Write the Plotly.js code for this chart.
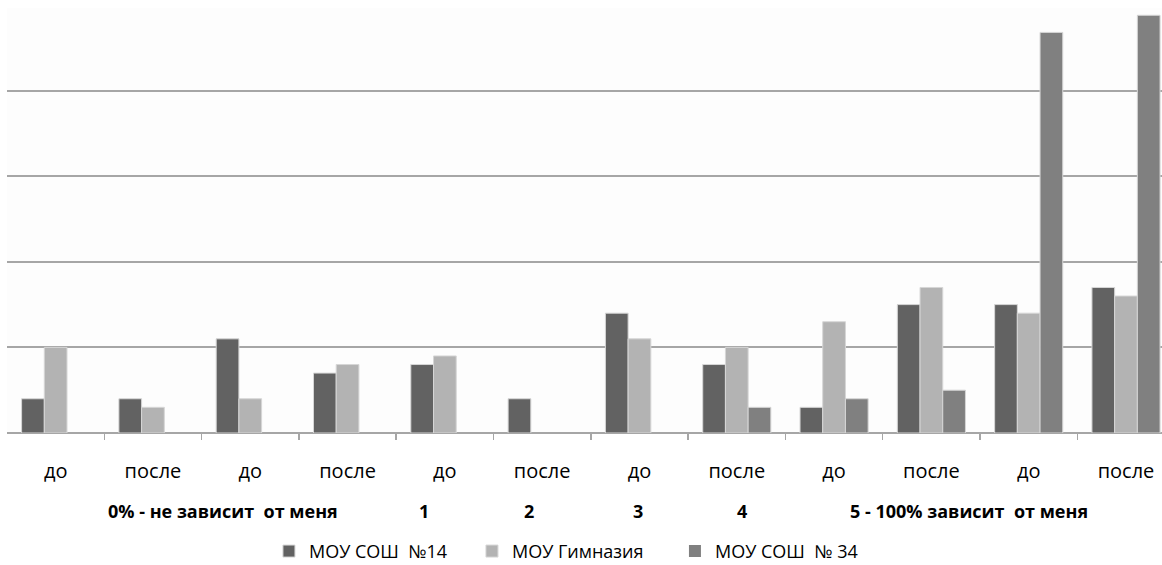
<!DOCTYPE html>
<html>
<head>
<meta charset="utf-8">
<script src="https://cdn.plot.ly/plotly-3.0.1.min.js"></script>
<style>html,body{margin:0;padding:0;background:#fff;}#chart{width:1162px;height:565px;}</style>
</head>
<body>
<div id="chart"></div>
<script>
// Categories (inner level labels)
var categories = ["до","после","до","после","до","после","до","после","до","после","до","после"];
// Outer level labels as shown under the axis
var groupLabels = ["0% - не зависит  от меня","1","2","3","4","5 - 100% зависит  от меня"];
// Series names
var seriesNames = ["МОУ СОШ  №14","МОУ Гимназия","МОУ СОШ  № 34"];
// Series values
var sosh14   = [4, 4, 11, 7, 8, 4, 14, 8, 3, 15, 15, 17];
var gymnasia = [10, 3, 4, 8, 9, 0, 11, 10, 13, 17, 14, 16];
var sosh34   = [0, 0, 0, 0, 0, 0, 0, 3, 4, 5, 46.8, 48.8];

var colors = ["#626262", "#b3b3b3", "#808080"];
var xIdx = categories.map(function(_, i){ return i; });
var series = [sosh14, gymnasia, sosh34];

var traces = series.map(function(vals, k){
  return {
    type: "bar",
    name: seriesNames[k],
    x: xIdx,
    y: vals,
    marker: {
      color: colors[k],
      line: {color: "#d6d6d6", width: vals.map(function(v){ return v === 0 ? 0 : 1; })}
    },
    hoverinfo: "skip"
  };
});

// positions of outer labels (in category units)
var groupPos = [1.72, 3.79, 4.86, 5.98, 7.05, 9.39];
var annotations = groupLabels.map(function(t, i){
  return {
    text: "<b>" + t + "</b>",
    x: groupPos[i], xref: "x",
    y: -0.183, yref: "paper",
    xanchor: "center", yanchor: "middle",
    showarrow: false,
    font: {family: "Open Sans, sans-serif", size: 18, color: "#000"}
  };
});

var layout = {
  width: 1162, height: 565,
  margin: {l: 7, r: 0, t: 8, b: 131.5, pad: 0, autoexpand: false},
  paper_bgcolor: "#ffffff",
  plot_bgcolor: "#fdfdfd",
  barmode: "group",
  bargap: 0.30,
  bargroupgap: 0,
  showlegend: true,
  legend: {
    orientation: "h",
    x: 0.2268, xanchor: "left",
    y: -0.2785, yanchor: "middle",
    font: {family: "Open Sans, sans-serif", size: 18, color: "#000"},
    itemwidth: 30,
    entrywidth: 158,
    entrywidthmode: "pixels",
    traceorder: "normal"
  },
  xaxis: {
    type: "linear",
    range: [-0.5, 11.37],
    tickmode: "array",
    tickvals: xIdx,
    ticktext: categories,
    ticks: "",
    showgrid: false,
    zeroline: false,
    showline: false,
    automargin: false,
    ticklabelstandoff: 24,
    tickfont: {family: "Open Sans, sans-serif", size: 20, color: "#000"},
    fixedrange: true
  },
  xaxis2: {
    overlaying: "x",
    matches: "x",
    type: "linear",
    range: [-0.5, 11.37],
    tickmode: "array",
    tickvals: [0.5,1.5,2.5,3.5,4.5,5.5,6.5,7.5,8.5,9.5,10.5],
    ticktext: ["","","","","","","","","","",""],
    ticks: "outside",
    ticklen: 6,
    tickwidth: 1.5,
    tickcolor: "#a6a6a6",
    showgrid: false,
    zeroline: false,
    showline: false,
    showticklabels: false,
    automargin: false,
    side: "bottom",
    anchor: "y"
  },
  yaxis: {
    range: [0, 49.65],
    dtick: 10,
    tick0: 0,
    showticklabels: false,
    ticks: "",
    showgrid: true,
    gridcolor: "#a6a6a6",
    gridwidth: 2,
    zeroline: true,
    zerolinecolor: "#a6a6a6",
    zerolinewidth: 2,
    showline: false,
    automargin: false,
    fixedrange: true
  },
  annotations: annotations
};

// invisible helper trace so the boundary-tick axis is drawn
traces.push({type: "scatter", x: [0], y: [0], xaxis: "x2", yaxis: "y", mode: "markers",
  marker: {opacity: 0}, showlegend: false, hoverinfo: "skip"});

Plotly.newPlot("chart", traces, layout, {displayModeBar: false, staticPlot: true});
</script>
</body>
</html>
